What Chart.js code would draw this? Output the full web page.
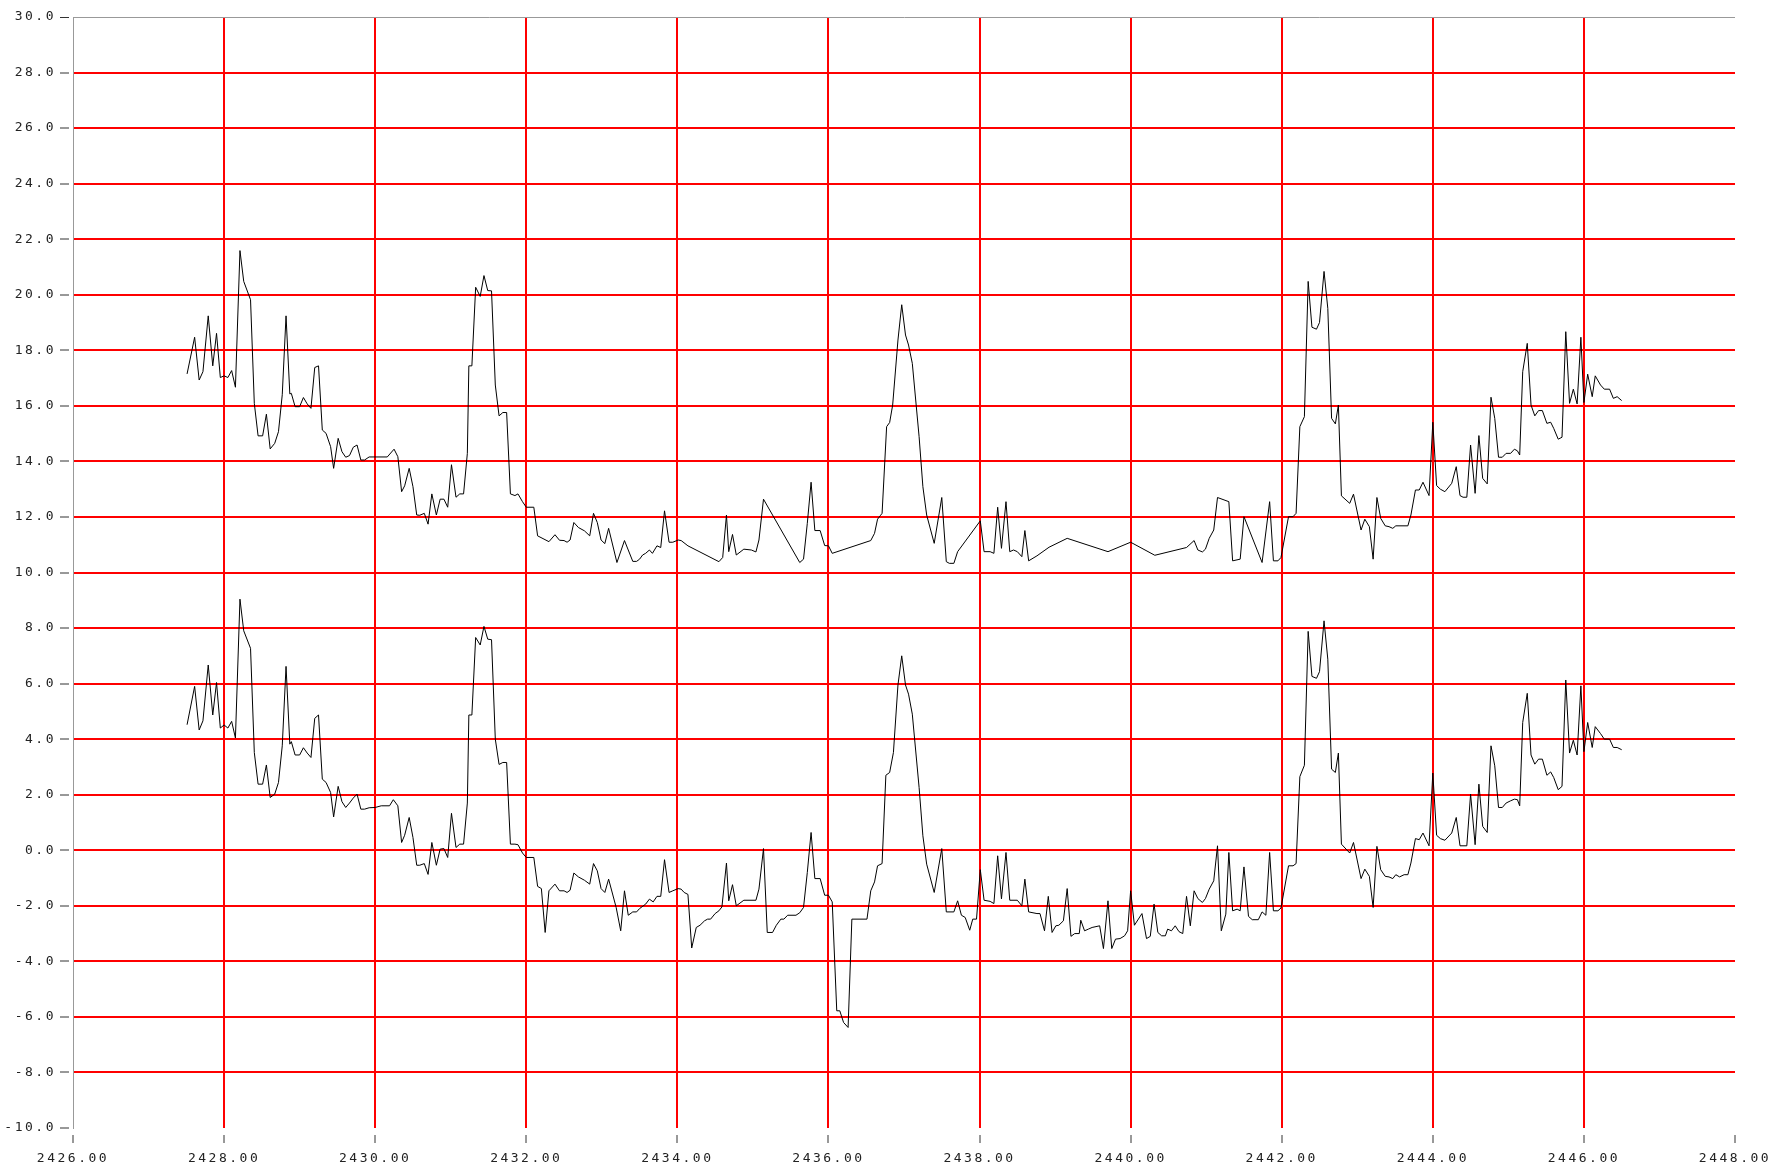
<!DOCTYPE html>
<html lang="en">
<head>
  <meta charset="UTF-8">
  <title>Two traces</title>
  <script src="https://cdn.jsdelivr.net/npm/chart.js"></script>
  <style>
    body { margin: 0; background: #fff; }
    canvas { display: block; }
  </style>
</head>
<body>
  <canvas id="plot" width="1769" height="1176"></canvas>

  <script>
    // axis ranges
    const xMin = 2426, xMax = 2448, xStep = 2;
    const yMin = -10, yMax = 30, yStep = 2;

    // upper trace
    const upperX = [
      2427.51, 2427.61, 2427.67, 2427.72, 2427.79, 2427.85, 2427.90, 2427.95, 2428.00, 2428.05,
      2428.10, 2428.15, 2428.21, 2428.26, 2428.35, 2428.40, 2428.45, 2428.51, 2428.56, 2428.61,
      2428.67, 2428.72, 2428.77, 2428.82, 2428.87, 2428.89, 2428.94, 2429.00, 2429.05, 2429.10,
      2429.15, 2429.20, 2429.25, 2429.30, 2429.35, 2429.41, 2429.45, 2429.51, 2429.56, 2429.61,
      2429.66, 2429.71, 2429.76, 2429.81, 2429.86, 2429.92, 2430.16, 2430.25, 2430.30, 2430.35,
      2430.39, 2430.45, 2430.50, 2430.55, 2430.59, 2430.65, 2430.70, 2430.75, 2430.81, 2430.86,
      2430.91, 2430.96, 2431.01, 2431.07, 2431.12, 2431.17, 2431.22, 2431.24, 2431.28, 2431.33,
      2431.39, 2431.44, 2431.49, 2431.54, 2431.59, 2431.64, 2431.69, 2431.74, 2431.79, 2431.85,
      2431.89, 2431.95, 2432.00, 2432.10, 2432.15, 2432.30, 2432.38, 2432.44, 2432.50, 2432.54,
      2432.58, 2432.63, 2432.69, 2432.77, 2432.84, 2432.89, 2432.94, 2432.99, 2433.04, 2433.09,
      2433.20, 2433.30, 2433.41, 2433.46, 2433.50, 2433.54, 2433.58, 2433.63, 2433.67, 2433.73,
      2433.78, 2433.83, 2433.89, 2433.94, 2434.01, 2434.05, 2434.14, 2434.55, 2434.60, 2434.65,
      2434.68, 2434.73, 2434.78, 2434.88, 2434.98, 2435.04, 2435.08, 2435.14, 2435.62, 2435.67,
      2435.72, 2435.77, 2435.82, 2435.89, 2435.95, 2436.00, 2436.05, 2436.56, 2436.61, 2436.65,
      2436.69, 2436.71, 2436.77, 2436.81, 2436.85, 2436.92, 2436.97, 2437.02, 2437.06, 2437.11,
      2437.20, 2437.25, 2437.30, 2437.40, 2437.50, 2437.56, 2437.60, 2437.66, 2437.71, 2438.01,
      2438.06, 2438.14, 2438.19, 2438.24, 2438.29, 2438.35, 2438.40, 2438.45, 2438.50, 2438.56,
      2438.60, 2438.65, 2438.76, 2438.92, 2439.16, 2439.70, 2440.00, 2440.32, 2440.74, 2440.84,
      2440.89, 2440.95, 2440.99, 2441.04, 2441.10, 2441.15, 2441.30, 2441.35, 2441.45, 2441.50,
      2441.74, 2441.84, 2441.89, 2441.95, 2441.99, 2442.09, 2442.15, 2442.19, 2442.24, 2442.30,
      2442.35, 2442.40, 2442.46, 2442.50, 2442.56, 2442.61, 2442.66, 2442.71, 2442.75, 2442.79,
      2442.90, 2442.95, 2443.05, 2443.10, 2443.16, 2443.21, 2443.26, 2443.31, 2443.37, 2443.42,
      2443.47, 2443.51, 2443.67, 2443.71, 2443.77, 2443.82, 2443.87, 2443.95, 2444.00, 2444.05,
      2444.10, 2444.16, 2444.25, 2444.31, 2444.36, 2444.40, 2444.45, 2444.50, 2444.56, 2444.61,
      2444.66, 2444.72, 2444.77, 2444.82, 2444.87, 2444.92, 2444.97, 2445.03, 2445.08, 2445.12,
      2445.15, 2445.19, 2445.25, 2445.30, 2445.35, 2445.40, 2445.45, 2445.51, 2445.56, 2445.60,
      2445.66, 2445.71, 2445.76, 2445.81, 2445.86, 2445.91, 2445.96, 2446.00, 2446.05, 2446.11,
      2446.15, 2446.22, 2446.27, 2446.34, 2446.39, 2446.44, 2446.50
    ];
    const upperY = [
      17.15, 18.47, 16.93, 17.23, 19.24, 17.44, 18.61, 17.02, 17.08, 17.02,
      17.27, 16.67, 21.59, 20.48, 19.82, 16.09, 14.92, 14.92, 15.70, 14.45,
      14.65, 15.07, 16.40, 19.24, 16.43, 16.45, 15.97, 15.97, 16.30, 16.07,
      15.91, 17.38, 17.44, 15.13, 15.01, 14.53, 13.75, 14.83, 14.35, 14.15,
      14.21, 14.51, 14.59, 14.05, 14.05, 14.16, 14.16, 14.44, 14.17, 12.91,
      13.12, 13.75, 13.09, 12.07, 12.06, 12.13, 11.74, 12.83, 12.07, 12.64,
      12.64, 12.35, 13.88, 12.71, 12.83, 12.83, 14.29, 17.44, 17.44, 20.27,
      19.94, 20.69, 20.15, 20.14, 16.75, 15.64, 15.76, 15.76, 12.83, 12.77,
      12.83, 12.55, 12.35, 12.35, 11.32, 11.11, 11.36, 11.16, 11.15, 11.09,
      11.17, 11.80, 11.62, 11.50, 11.32, 12.13, 11.80, 11.17, 11.04, 11.59,
      10.36, 11.15, 10.40, 10.40, 10.48, 10.63, 10.69, 10.81, 10.69, 10.96,
      10.90, 12.22, 11.09, 11.09, 11.17, 11.15, 10.96, 10.39, 10.54, 12.07,
      10.75, 11.37, 10.63, 10.84, 10.81, 10.74, 11.17, 12.64, 10.36, 10.48,
      11.77, 13.25, 11.51, 11.51, 10.97, 10.96, 10.69, 11.15, 11.41, 11.92,
      12.06, 12.13, 15.25, 15.40, 16.03, 18.37, 19.64, 18.55, 18.19, 17.53,
      14.89, 13.09, 12.07, 11.05, 12.70, 10.39, 10.33, 10.33, 10.75, 11.86,
      10.75, 10.75, 10.69, 12.35, 10.87, 12.55, 10.75, 10.81, 10.75, 10.57,
      11.51, 10.42, 10.60, 10.91, 11.23, 10.75, 11.09, 10.62, 10.90, 11.15,
      10.81, 10.74, 10.84, 11.23, 11.53, 12.70, 12.55, 10.42, 10.48, 12.01,
      10.36, 12.55, 10.42, 10.42, 10.54, 12.01, 12.01, 12.13, 15.25, 15.61,
      20.48, 18.83, 18.76, 19.00, 20.84, 19.51, 15.55, 15.35, 16.03, 12.76,
      12.49, 12.82, 11.53, 11.92, 11.65, 10.48, 12.70, 11.95, 11.68, 11.65,
      11.59, 11.68, 11.68, 12.07, 12.97, 12.97, 13.25, 12.77, 15.41, 13.13,
      13.00, 12.91, 13.21, 13.81, 12.77, 12.71, 12.71, 14.59, 12.85, 14.93,
      13.39, 13.19, 16.31, 15.55, 14.15, 14.15, 14.29, 14.29, 14.44, 14.38,
      14.23, 17.23, 18.25, 16.03, 15.64, 15.83, 15.83, 15.37, 15.41, 15.19,
      14.80, 14.87, 18.67, 16.09, 16.60, 16.07, 18.47, 16.12, 17.14, 16.33,
      17.08, 16.75, 16.60, 16.60, 16.27, 16.33, 16.19
    ];

    // lower trace
    const lowerX = [
      2427.51, 2427.61, 2427.67, 2427.72, 2427.79, 2427.85, 2427.90, 2427.95, 2428.00, 2428.05,
      2428.10, 2428.15, 2428.21, 2428.26, 2428.35, 2428.40, 2428.45, 2428.51, 2428.56, 2428.61,
      2428.67, 2428.72, 2428.77, 2428.82, 2428.87, 2428.89, 2428.94, 2429.00, 2429.05, 2429.10,
      2429.15, 2429.20, 2429.25, 2429.30, 2429.35, 2429.41, 2429.45, 2429.51, 2429.56, 2429.61,
      2429.66, 2429.71, 2429.76, 2429.81, 2429.86, 2429.92, 2430.00, 2430.08, 2430.19, 2430.24,
      2430.30, 2430.35, 2430.39, 2430.45, 2430.50, 2430.55, 2430.59, 2430.65, 2430.70, 2430.75,
      2430.81, 2430.86, 2430.91, 2430.96, 2431.01, 2431.07, 2431.12, 2431.17, 2431.22, 2431.24,
      2431.28, 2431.33, 2431.39, 2431.44, 2431.49, 2431.54, 2431.59, 2431.64, 2431.69, 2431.74,
      2431.79, 2431.85, 2431.89, 2431.95, 2432.00, 2432.10, 2432.15, 2432.20, 2432.25, 2432.30,
      2432.38, 2432.44, 2432.50, 2432.54, 2432.58, 2432.63, 2432.69, 2432.77, 2432.84, 2432.89,
      2432.94, 2432.99, 2433.04, 2433.09, 2433.19, 2433.25, 2433.30, 2433.35, 2433.41, 2433.46,
      2433.50, 2433.58, 2433.63, 2433.68, 2433.73, 2433.78, 2433.83, 2433.89, 2433.94, 2434.01,
      2434.05, 2434.09, 2434.14, 2434.19, 2434.25, 2434.30, 2434.36, 2434.40, 2434.44, 2434.50,
      2434.55, 2434.59, 2434.65, 2434.68, 2434.73, 2434.78, 2434.88, 2435.04, 2435.08, 2435.14,
      2435.19, 2435.26, 2435.31, 2435.37, 2435.41, 2435.46, 2435.57, 2435.62, 2435.67, 2435.72,
      2435.77, 2435.82, 2435.89, 2435.95, 2436.00, 2436.05, 2436.11, 2436.15, 2436.20, 2436.26,
      2436.31, 2436.51, 2436.56, 2436.61, 2436.65, 2436.71, 2436.76, 2436.81, 2436.86, 2436.92,
      2436.97, 2437.02, 2437.06, 2437.11, 2437.20, 2437.25, 2437.30, 2437.40, 2437.50, 2437.56,
      2437.66, 2437.71, 2437.76, 2437.81, 2437.87, 2437.91, 2437.96, 2438.01, 2438.06, 2438.14,
      2438.19, 2438.24, 2438.29, 2438.35, 2438.40, 2438.50, 2438.56, 2438.60, 2438.65, 2438.76,
      2438.80, 2438.86, 2438.91, 2438.96, 2439.01, 2439.05, 2439.11, 2439.16, 2439.21, 2439.26,
      2439.32, 2439.34, 2439.39, 2439.44, 2439.49, 2439.59, 2439.64, 2439.70, 2439.75, 2439.80,
      2439.86, 2439.92, 2439.96, 2440.00, 2440.05, 2440.15, 2440.21, 2440.26, 2440.31, 2440.36,
      2440.41, 2440.46, 2440.49, 2440.54, 2440.59, 2440.64, 2440.69, 2440.74, 2440.79, 2440.84,
      2440.89, 2440.95, 2440.99, 2441.04, 2441.10, 2441.15, 2441.20, 2441.26, 2441.30, 2441.35,
      2441.41, 2441.45, 2441.50, 2441.56, 2441.61, 2441.69, 2441.74, 2441.79, 2441.84, 2441.89,
      2441.95, 2441.99, 2442.09, 2442.15, 2442.19, 2442.24, 2442.30, 2442.35, 2442.40, 2442.46,
      2442.50, 2442.56, 2442.61, 2442.66, 2442.71, 2442.75, 2442.79, 2442.90, 2442.95, 2443.05,
      2443.10, 2443.16, 2443.21, 2443.26, 2443.31, 2443.37, 2443.42, 2443.47, 2443.51, 2443.56,
      2443.62, 2443.67, 2443.71, 2443.77, 2443.82, 2443.87, 2443.95, 2444.00, 2444.05, 2444.10,
      2444.16, 2444.25, 2444.31, 2444.36, 2444.45, 2444.50, 2444.56, 2444.61, 2444.66, 2444.72,
      2444.77, 2444.82, 2444.87, 2444.92, 2444.97, 2445.03, 2445.08, 2445.12, 2445.15, 2445.19,
      2445.25, 2445.30, 2445.35, 2445.40, 2445.45, 2445.51, 2445.56, 2445.60, 2445.66, 2445.71,
      2445.76, 2445.81, 2445.86, 2445.91, 2445.96, 2446.00, 2446.05, 2446.11, 2446.15, 2446.22,
      2446.27, 2446.34, 2446.39, 2446.44, 2446.50
    ];
    const lowerY = [
      4.52, 5.90, 4.33, 4.66, 6.67, 4.87, 6.04, 4.40, 4.51, 4.40,
      4.64, 4.04, 9.04, 7.90, 7.27, 3.52, 2.38, 2.38, 3.07, 1.90,
      2.02, 2.44, 3.76, 6.62, 3.82, 3.91, 3.43, 3.43, 3.69, 3.50,
      3.34, 4.75, 4.87, 2.56, 2.44, 2.08, 1.20, 2.30, 1.75, 1.54,
      1.70, 1.88, 2.02, 1.48, 1.48, 1.53, 1.54, 1.60, 1.60, 1.82,
      1.60, 0.28, 0.54, 1.18, 0.46, -0.54, -0.54, -0.48, -0.87, 0.28,
      -0.54, 0.04, 0.06, -0.26, 1.33, 0.10, 0.22, 0.22, 1.70, 4.87,
      4.87, 7.66, 7.39, 8.06, 7.60, 7.58, 4.00, 3.09, 3.16, 3.16,
      0.22, 0.22, 0.20, -0.10, -0.26, -0.26, -1.30, -1.38, -2.96, -1.46,
      -1.22, -1.46, -1.46, -1.52, -1.44, -0.82, -0.96, -1.08, -1.22, -0.48,
      -0.74, -1.38, -1.52, -1.04, -2.06, -2.90, -1.46, -2.34, -2.22, -2.22,
      -2.10, -1.94, -1.76, -1.86, -1.66, -1.66, -0.34, -1.52, -1.46, -1.38,
      -1.40, -1.52, -1.59, -3.52, -2.78, -2.70, -2.54, -2.48, -2.48, -2.28,
      -2.18, -2.04, -0.46, -1.82, -1.24, -2.00, -1.80, -1.80, -1.40, 0.06,
      -2.96, -2.96, -2.70, -2.48, -2.48, -2.34, -2.34, -2.25, -2.06, -0.80,
      0.64, -1.02, -1.02, -1.62, -1.62, -1.86, -5.78, -5.78, -6.20, -6.38,
      -2.48, -2.48, -1.46, -1.14, -0.56, -0.48, 2.70, 2.80, 3.52, 5.95,
      7.00, 5.95, 5.62, 4.90, 2.26, 0.52, -0.50, -1.52, 0.06, -2.22,
      -2.22, -1.82, -2.34, -2.42, -2.88, -2.48, -2.48, -0.70, -1.80, -1.84,
      -1.92, -0.20, -1.75, -0.08, -1.80, -1.80, -2.00, -1.04, -2.22, -2.28,
      -2.28, -2.90, -1.66, -2.96, -2.72, -2.70, -2.54, -1.38, -3.10, -3.00,
      -3.00, -2.52, -2.90, -2.84, -2.78, -2.72, -3.54, -1.82, -3.54, -3.20,
      -3.18, -3.08, -2.90, -1.46, -2.70, -2.28, -3.18, -3.10, -1.94, -2.96,
      -3.08, -3.08, -2.84, -2.90, -2.72, -2.93, -3.00, -1.66, -2.72, -1.46,
      -1.74, -1.88, -1.74, -1.40, -1.10, 0.16, -2.90, -2.30, -0.08, -2.18,
      -2.12, -2.18, -0.60, -2.38, -2.50, -2.50, -2.22, -2.34, -0.08, -2.18,
      -2.18, -2.08, -0.56, -0.56, -0.48, 2.65, 3.06, 7.88, 6.26, 6.19,
      6.43, 8.26, 6.88, 2.92, 2.80, 3.50, 0.22, -0.10, 0.28, -1.02,
      -0.68, -0.94, -2.06, 0.14, -0.70, -0.94, -0.96, -1.02, -0.88, -0.96,
      -0.88, -0.88, -0.46, 0.42, 0.38, 0.62, 0.16, 2.78, 0.54, 0.42,
      0.36, 0.62, 1.18, 0.16, 0.16, 2.02, 0.20, 2.38, 0.86, 0.64,
      3.76, 3.04, 1.54, 1.54, 1.70, 1.78, 1.84, 1.82, 1.60, 4.60,
      5.65, 3.43, 3.10, 3.28, 3.28, 2.70, 2.82, 2.62, 2.18, 2.30,
      6.13, 3.50, 3.96, 3.43, 5.92, 3.55, 4.60, 3.70, 4.45, 4.20,
      4.00, 4.00, 3.70, 3.70, 3.62
    ];

    const toPoints = (xs, ys) => xs.map((x, i) => ({ x: x, y: ys[i] }));

    // wide letter spacing for the tick labels
    const spacedText = {
      id: 'spacedText',
      beforeDraw(chart) { chart.ctx.letterSpacing = '2.5px'; }
    };

    const tickFont = { family: 'DejaVu Sans Mono', size: 13 };

    const ctx = document.getElementById('plot').getContext('2d');
    const chart = new Chart(ctx, {
      type: 'line',
      data: {
        datasets: [
          { data: toPoints(upperX, upperY), borderColor: '#000', borderWidth: 1, pointRadius: 0, tension: 0, fill: false },
          { data: toPoints(lowerX, lowerY), borderColor: '#000', borderWidth: 1, pointRadius: 0, tension: 0, fill: false }
        ]
      },
      options: {
        responsive: false,
        animation: false,
        devicePixelRatio: 1,
        layout: { padding: { left: 0, top: 17, right: 34, bottom: 0 } },
        plugins: { legend: { display: false }, tooltip: { enabled: false } },
        scales: {
          x: {
            type: 'linear',
            min: xMin, max: xMax,
            grid: {
              color: c => (c.tick && (c.tick.value === xMin || c.tick.value === xMax)) ? 'rgba(0,0,0,0)' : '#ff0000',
              lineWidth: 2,
              tickColor: '#333',
              tickWidth: 1,
              tickLength: 15,
              tickBorderDash: [8, 7],
              tickBorderDashOffset: 8
            },
            border: { display: false },
            ticks: {
              stepSize: xStep,
              autoSkip: false,
              maxRotation: 0,
              padding: 8,
              color: '#222',
              font: tickFont,
              callback: v => v.toFixed(2)
            },
            afterFit: s => { s.height = 48; s.paddingLeft = 0; s.paddingRight = 0; }
          },
          y: {
            min: yMin, max: yMax,
            grid: {
              color: c => {
                if (!c.tick) return '#ff0000';
                if (c.tick.value === yMin) return 'rgba(0,0,0,0)';
                if (c.tick.value === yMax) return '#999';
                return '#ff0000';
              },
              lineWidth: c => (c.tick && c.tick.value === yMax) ? 1 : 2,
              tickColor: '#333',
              tickWidth: 1,
              tickLength: 13,
              tickBorderDash: [9, 4]
            },
            border: { display: true, color: '#999', width: 1 },
            ticks: {
              stepSize: yStep,
              padding: 4,
              color: '#222',
              font: tickFont,
              callback: v => v.toFixed(1)
            },
            afterFit: s => { s.width = 73; s.paddingTop = 0; s.paddingBottom = 0; }
          }
        }
      },
      plugins: [spacedText]
    });
  </script>
</body>
</html>
